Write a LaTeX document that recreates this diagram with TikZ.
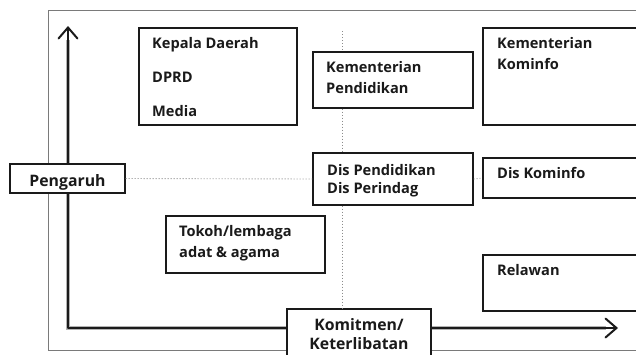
\documentclass[tikz,border=0pt]{standalone}
\usepackage{fontspec}
\setmainfont{Open Sans}
\usetikzlibrary{arrows.meta,fit}

\definecolor{ink}{HTML}{1A1A1A}
\definecolor{framegrey}{HTML}{7A7A7A}
\definecolor{dotgrey}{HTML}{8C8C8C}

\tikzset{
  frame/.style={draw=framegrey, line width=1pt},
  box/.style={draw=ink, line width=1.2pt, fill=white, inner sep=0pt},
  lbl/.style={anchor=base west, inner sep=0pt, text=ink,
              font=\fontsize{14.6}{17}\selectfont\bfseries},
  clbl/.style={lbl, anchor=base, font=\fontsize{15.8}{18}\selectfont\bfseries},
  guide/.style={draw=dotgrey, line width=0.9pt, dash pattern=on 0.9pt off 2.1pt},
  axis/.style={draw=ink, line width=2pt, line join=round,
               arrows={Straight Barb[length=11pt,width=19pt,line cap=round]-Straight Barb[length=11pt,width=19pt,line cap=round]}},
  axishalo/.style={draw=black!30, line width=3.6pt}
}

\begin{document}
\begin{tikzpicture}[x=1pt,y=-1pt]
  \useasboundingbox (0,0) rectangle (636,354);
  \clip (0,0) rectangle (636,354);
  \fill[white] (0,0) rectangle (636,354);

  % outer frame
  \draw[frame] (48,10) rectangle (670,350);

  % axes
  \coordinate (origin) at (68,328);
  \coordinate (ytip) at (68,26);
  \coordinate (xtip) at (618,328);
  \draw[axishalo] (68,40) -- (origin) -- (606,328);
  \draw[axis] (ytip) -- (origin) -- (xtip);

  % boxes
  \node[box, fit={(139,28) (297,125)}] (kd) {};
  \node[box, fit={(313,52) (473,108)}] (kp) {};
  \node[box, fit={(483,28) (670,125)}] (kk) {};
  \node[box, fit={(313,153) (473,205)}] (dp) {};
  \node[box, fit={(483,158) (670,198)}] (dk) {};
  \node[box, fit={(166,216) (325,273)}] (tk) {};
  \node[box, fit={(483,255) (670,311)}] (rl) {};

  % axis labels
  \node[box, fit={(10,164) (125,193)}] (pg) {};
  \node[box, fit={(287,309) (431,370)}] (km) {};

  % quadrant guides
  \coordinate (vtop) at (342,31);
  \draw[guide] (pg.east) -- (dp.west);
  \draw[guide] (dp.east) -- (dk.west);
  \draw[guide] (vtop) -- (kp.north -| vtop);
  \draw[guide] (kp.south -| vtop) -- (dp.north -| vtop);
  \draw[guide] (dp.south -| vtop) -- (km.north -| vtop);

  % texts
  \node[lbl] (kd1) at (152,48.5) {Kepala Daerah};
  \node[lbl] (kd2) at (152,82) {DPRD};
  \node[lbl] (kd3) at (152,116) {Media};

  \node[lbl] (kp1) at (326,72) {Kementerian};
  \node[lbl] (kp2) at (326,93) {Pendidikan};

  \node[lbl] (kk1) at (497,48) {Kementerian};
  \node[lbl] (kk2) at (497,69) {Kominfo};

  \node[lbl] (dp1) at (327,175) {Dis Pendidikan};
  \node[lbl] (dp2) at (327,193) {Dis Perindag};

  \node[lbl] (dk1) at (497,178) {Dis Kominfo};

  \node[lbl] (tk1) at (179,236) {Tokoh/lembaga};
  \node[lbl] (tk2) at (179,257) {adat \& agama};

  \node[lbl] (rl1) at (497,275) {Relawan};

  \node[clbl] (pg1) at (67.5,186) {Pengaruh};
  \node[clbl] (km1) at (359,330) {Komitmen/};
  \node[clbl] (km2) at (359,349) {Keterlibatan};
\end{tikzpicture}
\end{document}
